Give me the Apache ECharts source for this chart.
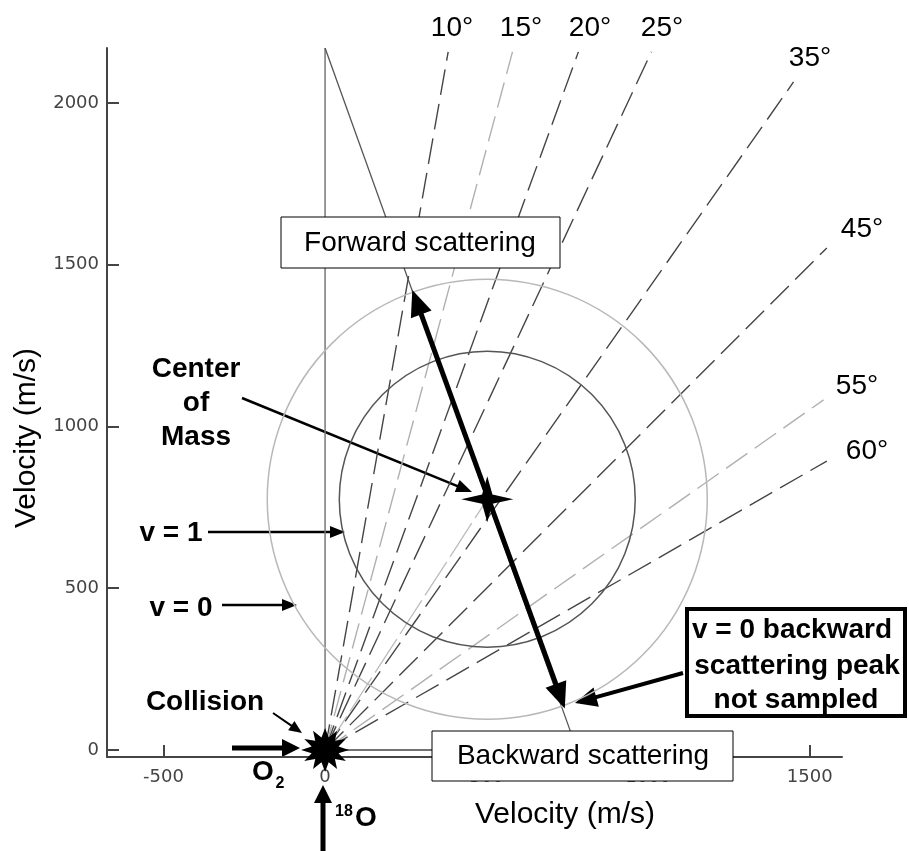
<!DOCTYPE html>
<html>
<head>
<meta charset="utf-8">
<script src="https://cdn.jsdelivr.net/npm/echarts@6/dist/echarts.min.js"></script>
<style>
  html, body { margin: 0; padding: 0; background: #fff; }
  #chart { width: 909px; height: 851px; }
</style>
</head>
<body>
<div id="chart"></div>
<script>
// --- values (m/s) ---
const xTicks = [-500, 0, 500, 1000, 1500];
const yTicks = [0, 500, 1000, 1500, 2000];
const fanLabels = ['10°', '15°', '20°', '25°', '35°', '45°', '55°', '60°'];
const fanEnds = [[381, 2158], [580, 2158], [784, 2158], [1010, 2158], [1450, 2065], [1553, 1552], [1543, 1082], [1553, 893]];
const fanShade = ['dark', 'light', 'dark', 'dark', 'dark', 'dark', 'light', 'dark'];
const o2Velocity = [780, 0];
const o18Velocity = [0, 2170];
const centerOfMass = [502, 775];
const circleRadii = [458, 681];          // v = 1, v = 0
const forwardTip = [270, 1422];
const backwardTip = [742, 128];

// label placement (pixels)
const fanLabelXY = [[452, 28], [521, 28], [590, 28], [662, 28], [810, 58], [862, 229], [857, 386], [867, 451]];

const FONT = '"Liberation Sans", Arial, sans-serif';
const chart = echarts.init(document.getElementById('chart'));

function starPath(n, inner) {
  let d = '';
  for (let i = 0; i < 2 * n; i++) {
    const a = -Math.PI / 2 + i * Math.PI / n;
    const r = i % 2 ? inner : 1;
    d += (i ? 'L' : 'M') + (r * Math.cos(a)).toFixed(3) + ' ' + (r * Math.sin(a)).toFixed(3);
  }
  return 'path://' + d + 'Z';
}

function arrowParts(x1, y1, x2, y2, w, hl, hw) {
  const dx = x2 - x1, dy = y2 - y1, L = Math.hypot(dx, dy);
  const ux = dx / L, uy = dy / L, px = -uy, py = ux;
  const bx = x2 - ux * hl, by = y2 - uy * hl;
  return [
    { type: 'line', shape: { x1: x1, y1: y1, x2: bx + ux, y2: by + uy }, style: { stroke: '#000', lineWidth: w } },
    { type: 'polygon', shape: { points: [[x2, y2], [bx + px * hw / 2, by + py * hw / 2], [bx - px * hw / 2, by - py * hw / 2]] }, style: { fill: '#000' } }
  ];
}

function arrow(x1, y1, x2, y2, w, hl, hw) {
  return { type: 'group', z: 100, children: arrowParts(x1, y1, x2, y2, w, hl, hw) };
}

function txt(s, x, y, size, bold, extra) {
  return Object.assign({
    type: 'text', x: x, y: y, z: 101,
    style: { text: s, fill: '#000', font: (bold ? 'bold ' : '') + size + 'px ' + FONT, align: 'center', verticalAlign: 'middle' }
  }, extra || {});
}

function box(x, y, w, h, lw) {
  return { type: 'rect', z: 99, shape: { x: x, y: y, width: w, height: h }, style: { fill: '#fff', stroke: '#000', lineWidth: lw } };
}

function plainLine(data, color, width, dash, z) {
  return {
    type: 'line', data: data, showSymbol: false, silent: true, animation: false, z: z || 2,
    lineStyle: { color: color, width: width, type: dash || 'solid', opacity: 1 }
  };
}

function circleSeries(r, color) {
  return {
    type: 'custom', silent: true, animation: false, z: 3,
    data: [[centerOfMass[0], centerOfMass[1], r]],
    renderItem: function (params, api) {
      const c = api.coord([api.value(0), api.value(1)]);
      const rad = api.size([api.value(2), 0])[0];
      return { type: 'circle', shape: { cx: c[0], cy: c[1], r: rad }, style: { fill: 'none', stroke: color, lineWidth: 1.5 } };
    }
  };
}

const series = [];
fanEnds.forEach(function (e, i) {
  series.push(plainLine([[0, 0], e], fanShade[i] === 'light' ? '#b0b0b0' : '#454545', 1.4, [26, 9]));
});
series.push(plainLine([[0, 0], centerOfMass], '#bcbcbc', 1.3, [40, 6]));
series.push(plainLine([[0, 0], o18Velocity], '#777', 1.5));
series.push(plainLine([[0, 0], o2Velocity], '#444', 1.5));
series.push(plainLine([o18Velocity, o2Velocity], '#555', 1.3));
series.push(circleSeries(circleRadii[0], '#555'));
series.push(circleSeries(circleRadii[1], '#b8b8b8'));
series.push({
  type: 'custom', silent: true, animation: false, z: 6,
  data: [[forwardTip[0], forwardTip[1], backwardTip[0], backwardTip[1]]],
  renderItem: function (params, api) {
    const a = api.coord([api.value(0), api.value(1)]);
    const b = api.coord([api.value(2), api.value(3)]);
    const mx = (a[0] + b[0]) / 2, my = (a[1] + b[1]) / 2;
    return { type: 'group', children: arrowParts(mx, my, a[0], a[1], 5, 26, 22).concat(arrowParts(mx, my, b[0], b[1], 5, 26, 22)) };
  }
});
series.push({
  type: 'scatter', silent: true, animation: false, z: 8,
  data: [[0, 0]], symbol: starPath(12, 0.58), symbolSize: [48, 44],
  itemStyle: { color: '#000', opacity: 1 }
});
series.push({
  type: 'scatter', silent: true, animation: false, z: 8,
  data: [centerOfMass], symbol: 'path://M0 -1L0.2 -0.2L1 0L0.2 0.2L0 1L-0.2 0.2L-1 0L-0.2 -0.2Z', symbolSize: [52, 46],
  itemStyle: { color: '#000', opacity: 1 }
});

const graphics = [];
fanLabels.forEach(function (s, i) { graphics.push(txt(s, fanLabelXY[i][0], fanLabelXY[i][1], 28, false)); });
graphics.push(txt('Velocity (m/s)', 27, 438, 30, false, { rotation: Math.PI / 2 }));
graphics.push(txt('Velocity (m/s)', 565, 815, 30, false));
graphics.push(box(281, 217, 279, 51, 1));
graphics.push(txt('Forward scattering', 420, 243, 28, false));
graphics.push(box(432, 731, 301, 50, 1));
graphics.push(txt('Backward scattering', 583, 756, 28, false));
graphics.push(box(687, 609, 218, 107, 4));
graphics.push(txt('v = 0 backward', 792, 630, 28, true));
graphics.push(txt('scattering peak', 797, 666, 28, true));
graphics.push(txt('not sampled', 796, 700, 28, true));
graphics.push(arrow(683, 673, 575, 703, 4, 22, 20));
graphics.push(txt('Center', 196, 369, 28, true));
graphics.push(txt('of', 196, 403, 28, true));
graphics.push(txt('Mass', 196, 437, 28, true));
graphics.push(arrow(242, 398, 472, 492, 2.5, 16, 13));
graphics.push(txt('v = 1', 171, 533, 28, true));
graphics.push(arrow(208, 532, 345, 532, 2.5, 15, 12));
graphics.push(txt('v = 0', 181, 608, 28, true));
graphics.push(arrow(222, 605, 297, 605, 2.5, 15, 12));
graphics.push(txt('Collision', 205, 702, 28, true));
graphics.push(arrow(273, 713, 302, 733, 2, 13, 11));
graphics.push(arrow(232, 748, 300, 748, 5, 18, 18));
graphics.push(txt('O', 263, 772, 28, true));
graphics.push(txt('2', 280, 784, 16, true));
graphics.push(arrow(323, 851, 323, 785, 5, 18, 18));
graphics.push(txt('18', 344, 812, 16, true));
graphics.push(txt('O', 366, 818, 28, true));

const tickLabel = { fontSize: 18, fontFamily: '"DejaVu Sans", sans-serif', color: '#444', formatter: function (v) { return String(v); } };

chart.setOption({
  backgroundColor: '#fff',
  animation: false,
  grid: { left: 107, right: 67, top: 48, bottom: 94, containLabel: false, outerBoundsMode: 'none' },
  xAxis: {
    type: 'value', min: -675, max: 1600,
    axisLine: { show: true, onZero: false, lineStyle: { color: '#444', width: 2 } },
    axisTick: { show: true, inside: true, length: 12, customValues: xTicks, lineStyle: { color: '#444', width: 2 } },
    axisLabel: Object.assign({ customValues: xTicks, margin: 11 }, tickLabel),
    splitLine: { show: false }
  },
  yAxis: {
    type: 'value', min: -22, max: 2170,
    axisLine: { show: true, onZero: false, lineStyle: { color: '#444', width: 2 } },
    axisTick: { show: true, inside: true, length: 12, customValues: yTicks, lineStyle: { color: '#444', width: 2 } },
    axisLabel: Object.assign({ customValues: yTicks, margin: 8 }, tickLabel),
    splitLine: { show: false }
  },
  series: series,
  graphic: graphics
});
</script>
</body>
</html>
